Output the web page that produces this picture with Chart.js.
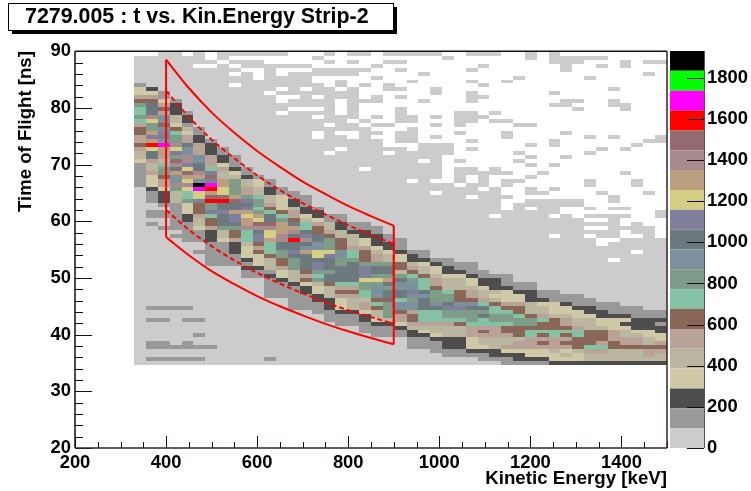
<!DOCTYPE html>
<html><head><meta charset="utf-8">
<style>html,body{margin:0;padding:0;background:#fff}#wrap{position:relative;width:751px;height:491px;overflow:hidden}canvas{position:absolute;top:0;display:block}</style>
<script src="https://cdn.jsdelivr.net/npm/chart.js@4"></script>
</head><body><div id="wrap"><canvas id="main" width="751" height="491" style="left:0"></canvas><canvas id="bar" width="81" height="491" style="left:670px"></canvas></div>
<script>
const TITLE = '7279.005 : t vs. Kin.Energy Strip-2';
const X_TITLE = 'Kinetic Energy [keV]';
const Y_TITLE = 'Time of Flight [ns]';
const X_START = 330, X_BIN = 26, Y_START = 34.6, Y_BIN = 0.7;
// colour level (one char per level): 0-9, a-j
const LEVEL_COLORS = ['#CCCCCC','#999999','#4D4D4D','#CFC9A8','#BBB6A0','#B9A297','#8A6656','#84C2A3','#7F9C88','#7B929E','#6C7A80','#7F7F9C','#D4CF85','#BC9F80','#A88B8F','#946A6E','#FF0000','#FF00FF','#00FF00','#000000'];
const Z_STEP = 96.5;
// top row of the dense band per energy bin
const COL_TOP = [70,69,68,66,63,59,56,54,52,49,47,46,44,43,42,39,37,37,35,35,34,32,31,28,28,26,26,25,25,23,22,22,20,20,18,18,17,17,16,15,15,14,14,13,13];
// levels per energy bin, from that top row downwards
const COL_LEVELS = [
"1 3 3 5 6 8 7 7 8 7 5 6 6 5 5 6 5 4 4 3 111111",
"2 3 5 6 aaa e c 8 8 d b d g c aa 5 44 5 333 2 111 00 11 0 1",
"11 3 5 6 5 99 6 9 bb 9 h dd 5 4 7 88 6 55 3 222 1 0 11 00 1",
"1 222 44 3 6 7 88 e c b 8 f e a d 99 e 8 444 1111111 0 1",
"1 22 1 4 3 55 a 99 ee b c f d c e c 77 8 333 22 11111",
"11 22 555 99 a a e d 9 j h cc b 666 5 44 3 111 00 1",
"1 222 555 7 b f b h g d f g 88 b 7 66 5 222 1 11111",
"11 22 3 5 4 4 d d cc f g a a b aa a 8 44 3 111111",
"111 2 3 4 88 88 d f aa d bb a8 66 5 222 111",
"11 2 44 55 8 b a b d c dd e 777 4 333 2 1 2 11",
"1 3 3 44 7 88 7 8 d c f e a bb 6 5 6 333 2 11",
"11 22 44 5 6 7 aa f e cc d 777 6 444 1 2 11111",
"11 333 3 6 7 8 dd d ee a a 8 8 66 5 33 2 111 1",
"11 22 4 5 5 6 a d e a g a a b a 88 8 44 4 2 111 111",
"111 22 3 4 77 a b e a 9 d aaa a 6 5 6 3 22 1111",
"1 22 3 5 66 a a 9 9 cc a bb 8 7 8 4 33 22 111",
"11 44 5 6 888 c b a aa 8 aa 6 444 222 111",
"11 22 44 666 99 88 aa aa 7 5 6 5 333 2 11 1",
"11 2 444 5 77 8 aa aa a 7 5 6 5 4 44 2 11 1",
"11 22 33 5 666 8 bbb c 8 8 77 4 55 3 22 111",
"11 222 3 4 55 8 aa 8 c 8 9 99 6 7 6 44 3 2 111",
"11 22 3 44 8 aa 8 d a 8 a a 6 88 88 4 2 111",
"111 2 33 66 4 8 a 99 aa 7 99 6 55 3 2 11",
"1 22 4 5 6 7 8 99 b 9 8 99 5 66 5 4 22 111",
"11 2 3 44 6 777 a 9 aaa 7 77 5 4 3 2 111",
"1 2 33 4 55 6 8 8 8 9 a 7 77 5 44 3 2 111",
"11 22 3 444 7 88 a b 88 7 5 4 44 222 11",
"11 2 3 444 666 9 b 88 7 6 444 222 11",
"111 2 3 3 4 55 6 9 a 88 8 7 555 333 2 1",
"11 22 3 44 5 7 a 8 a 7 7 5 6 5 44 3 2 11",
"1 222 4 3 4 6 77 8 8 7 555 44 4 22 1",
"111 2 333 5 6 7 8 8 7 66 5 44 5 3 2 1 1",
"11 2 33 5 66 7 88 666 4 55 3 22 1",
"11 222 444 6 8 8 6 77 5 55 33 2 1",
"11 2 3 44 5 7 66 7 6 5 6 5 33 2 1",
"111 333 4 666 77 55 5 4 3 3 2",
"11 2 33 4 55 6 7 6 5 6 5 3 4 3 2",
"111 2 33 44 5 77 666 4 33 2",
"11 22 3 444 666 6 7 5 44 2",
"11 22 33 4 666 5 7 5 44 2",
"111 2 333 55 5 66 444 2",
"11 2 3 2 3 44 55 6 444 2",
"111 22 2 3 4 55 6 444 2",
"11 222 3 3 44 6 55 4 2",
"11 2 1 22 33 5 6 5 44 2"];
// occupied (lightest level) bins per row; rows not listed are full
const SPARSE_ROWS = [
[78,"2-3 5 7-12 16 18-19 21-25 28-30 33 35"],
[77,"0-5 7 15 26 33 35-39"],
[76,"0-6 8-10 16 18 21-22 35-37 41 43-44"],
[75,"0-4 7 9-14 20 29 36 39 41"],
[74,"0-8 11 15-19 22 28 36"],
[73,"0-7 9 11 13-18 24 43"],
[72,"0-9 11-14 20 32 38"],
[71,"0-14 17 23 28 31"],
[70,"0-7 9-15 17 19 21 29"],
[69,"0-11 13 15-16 18 21-22 25 40"],
[68,"0-10 12-18 25 28 35"],
[67,"0-11 14 16-18 20 22 28-29"],
[66,"0-11 13-16 18-20 24 28 36-37 40"],
[65,"0-16 18 35-36 40-41"],
[64,"0-12 16 18 22 37 41"],
[63,"0-11 13-16 18 22 27-28 30"],
[62,"0-14 16-18 20 22-23 25 27-29"],
[61,"0-17 19 22-23 27-28 30-31"],
[60,"0-15 17-18 20-21 25 27 32-33"],
[59,"0-19 23"],
[58,"0-14 16 19-20 22-23 27 31 36"],
[57,"0-14 16-17 19 22-23 25 31 38 40 44"],
[56,"0-20 22-23 28 35 43-44"],
[55,"0-20 24-26 33 35 42"],
[54,"0-16 18-22 24-26 28 39 41"],
[53,"0-15 17-20 22-26 32 38"],
[52,"0-25 33 36"],
[51,"0-23 25 27 32"],
[50,"0-25 33 35"],
[49,"0-18 20-25 27-28 30"],
[48,"0-25 27-31 34 41"],
[47,"0-25 27 29 33"],
[46,"0-22 24 27 29 31-32 38 42"],
[45,"0-26 28-29 31 38 42"],
[44,"0-28 30 33 35"],
[43,"0-24 26-30 33-34 39 43"],
[42,"0-27 29-31 40"],
[41,"0-30 33-37 40"],
[40,"0-30 32-37"],
[39,"0-30 32 34-35 38 40-41"],
[38,"0-35 44"],
[37,"0-29 31-34 36 38-41 44"],
[36,"0-37 40"],
[35,"0-40 42"],
[34,"0-37 40-43"],
[33,"0-40 42-43"],
[32,"0-34 36-37 39-40 43"],
[31,"0-38 41-44"],
[30,"0-38 40-44"],
[28,"0-41 43-44"],
[26,"0-39 41-44"]];
// small separated groups of the second level
const ISLANDS = [[1,"1-5 11"],[4,"1-6"],[5,"1-2 4"],[7,"5"],[11,"1-2 4-5"],[14,"1-4"]];
// red selection contour (energy, time)
const CUT_E = [400,450,500,550,600,650,700,750,800,850,900];
const OUTER_TOP = [88.5,83.5,79.2,75.6,72.4,69.6,67,64.8,62.7,60.9,59.2];
const OUTER_LOW = [57.2,54,51.2,48.9,46.8,45,43.4,41.9,40.6,39.4,38.3];
const INNER_TOP = [83,78.4,74.4,71.1,68.1,65.5,63.2,61.2,59.3,57.6,56];
const INNER_LOW = [62,58.5,55.6,53.1,50.9,49,47.3,45.7,44.3,43.1,41.9];

const NB_COLS = COL_TOP.length, NB_ROWS = 79;
const parseRuns = s => { const out=[]; s.split(' ').forEach(t=>{const [a,b]=t.split('-').map(Number); for(let k=a;k<=(b===undefined?a:b);k++) out.push(k);}); return out; };
// grid[k][r] = level or -1 (empty)
const grid = Array.from({length:NB_COLS},()=>new Array(NB_ROWS).fill(0));
SPARSE_ROWS.forEach(([r,s])=>{ const on=new Set(parseRuns(s)); for(let k=0;k<NB_COLS;k++) grid[k][r]=on.has(k)?0:-1; });
ISLANDS.forEach(([r,s])=>parseRuns(s).forEach(k=>grid[k][r]=1));
COL_LEVELS.forEach((s,k)=>{ const t=s.replace(/ /g,''); for(let i=0;i<t.length;i++){ const r=COL_TOP[k]-i; if(r>=0) grid[k][r]=parseInt(t[i],20);} });

// one bar dataset per colour level, vertical runs merged
const cellData = LEVEL_COLORS.map(()=>[]);
for(let k=0;k<NB_COLS;k++){
  let r=0;
  while(r<NB_ROWS){
    const lev=grid[k][r]; let e=r+1;
    while(e<NB_ROWS && grid[k][e]===lev) e++;
    if(lev>=0) cellData[lev].push({x:X_START+X_BIN*(k+0.5), y:[Y_START+Y_BIN*r, Y_START+Y_BIN*e]});
    r=e;
  }
}
const cellSets = LEVEL_COLORS.map((c,i)=>({type:'bar',label:'z'+i,data:cellData[i],backgroundColor:c,borderWidth:0,inflateAmount:0,stack:'cells',barPercentage:1,categoryPercentage:1,order:5}));
const pts = (xs,ys)=>xs.map((x,i)=>({x,y:ys[i]}));
const last = a=>a[a.length-1];
const redLine = (label,data,dash)=>({type:'line',label,data,borderColor:'#FF0000',borderWidth:2,borderDash:dash,pointRadius:0,cubicInterpolationMode:'monotone',fill:false,order:dash.length?1:0});
const contour = (name,top,low,dash)=>[
  redLine(name+' top',pts(CUT_E,top),dash),
  redLine(name+' low',pts(CUT_E,low),dash),
  redLine(name+' left',[{x:CUT_E[0],y:low[0]},{x:CUT_E[0],y:top[0]}],dash),
  redLine(name+' right',[{x:last(CUT_E),y:last(low)},{x:last(CUT_E),y:last(top)}],dash)];
const lineSets = [...contour('inner',INNER_TOP,INNER_LOW,[5,3]),...contour('outer',OUTER_TOP,OUTER_LOW,[])];
// pixel-snap cells as the reference raster does
const snap = {id:'snap',afterDatasetsUpdate(chart){
  chart.data.datasets.forEach((d,i)=>{ if(d.type!=='bar') return;
    chart.getDatasetMeta(i).data.forEach(el=>{
      const l=Math.round(el.x-el.width/2), r=Math.round(el.x+el.width/2), t=Math.round(Math.min(el.y,el.base)), b=Math.round(Math.max(el.y,el.base));
      el.x=(l+r)/2; el.width=r-l; el.y=t; el.base=b; el.height=b-t;
    });
  });
}};
const AX='#111';
const vTicks=(ctx,scale,min,max,step,majorStep,x0,majorLen,minorLen,dir)=>{
  for(let v=min;v<=max;v+=step){ const p=Math.round(scale.getPixelForValue(v))+0.5; const len=((v-min)%majorStep===0)?majorLen:minorLen;
    ctx.beginPath();ctx.moveTo(x0,p);ctx.lineTo(x0+dir*len,p);ctx.stroke(); }
};
const decor = {id:'decor',
  afterLayout(chart){ chart.titleBlock.left=25; },
  beforeDraw(chart){ const c=chart.ctx; c.save();
    c.fillStyle='#000'; c.fillRect(12,7,385,27);
    c.fillStyle='#fff'; c.fillRect(8,3,386,28);
    c.strokeStyle='#000'; c.lineWidth=1; c.strokeRect(8.5,3.5,385,27);
    c.restore(); },
  afterDatasetsDraw(chart){ const c=chart.ctx,a=chart.chartArea,xs=chart.scales.x,ys=chart.scales.y; c.save();
    c.strokeStyle=AX; c.lineWidth=1;
    vTicks(c,ys,20,90,2,10,a.left,17,8,1);
    for(let v=200;v<=1500;v+=50){ const p=Math.round(xs.getPixelForValue(v))+0.5; const len=(v%200===0)?12:6;
      c.beginPath();c.moveTo(p,a.bottom);c.lineTo(p,a.bottom-len);c.stroke(); }
    c.lineWidth=1.5; c.strokeStyle='#111';
    c.beginPath();c.moveTo(a.left,a.top);c.lineTo(a.right,a.top);c.stroke();
    c.strokeStyle='#3a2020';
    c.beginPath();c.moveTo(a.right,a.top);c.lineTo(a.right,a.bottom);c.stroke();
    c.beginPath();c.moveTo(a.left,a.bottom);c.lineTo(a.right,a.bottom);c.stroke();
    c.strokeStyle='#111';
    c.beginPath();c.moveTo(a.left,a.top);c.lineTo(a.left,a.bottom);c.stroke();
    c.restore(); }
};
const FONT=18.4, FAM='"Liberation Sans"';
const plain = v=>String(v);
new Chart(document.getElementById('main'),{
  data:{datasets:[...cellSets,...lineSets]},
  plugins:[snap,decor],
  options:{responsive:false,animation:false,events:[],
    layout:{padding:{right:84,left:0,top:0,bottom:0}},
    plugins:{legend:{display:false},tooltip:{enabled:false},
      title:{display:true,text:TITLE,align:'start',color:'#000',font:{family:FAM,weight:'bold',size:21.4,lineHeight:1.2},padding:{top:4.5,bottom:21}}},
    scales:{
      x:{type:'linear',stacked:true,offset:false,min:200,max:1500,
        afterFit(s){s.height=43;},
        grid:{display:false,drawTicks:false,offset:false},border:{display:false},
        ticks:{stepSize:200,includeBounds:false,autoSkip:false,maxRotation:0,color:'#000',padding:4,callback:plain,font:{family:FAM,weight:'bold',size:FONT}},
        title:{display:true,text:X_TITLE,align:'end',color:'#000',padding:{top:0,bottom:1},font:{family:FAM,weight:'bold',size:18.7}}},
      y:{type:'linear',stacked:false,min:20,max:90,
        afterFit(s){s.width=75;},
        grid:{display:false,drawTicks:false},border:{display:false},
        ticks:{stepSize:10,autoSkip:false,color:'#000',padding:4,callback:plain,font:{family:FAM,weight:'bold',size:FONT}},
        title:{display:true,text:Y_TITLE,align:'end',color:'#000',padding:{top:15,bottom:0},font:{family:FAM,weight:'bold',size:18.6}}}
    }}
});
// colour bar
const BAR_MAX = 1930;
const barSets = LEVEL_COLORS.map((c,i)=>({label:'z'+i,data:[[i*Z_STEP,Math.min((i+1)*Z_STEP,BAR_MAX)]],backgroundColor:c,borderWidth:0,inflateAmount:0,barPercentage:1,categoryPercentage:1,stack:'b'}));
const barDecor={id:'barDecor',afterDatasetsDraw(chart){ const c=chart.ctx,a=chart.chartArea,z=chart.scales.y; c.save();
  c.strokeStyle='#111';c.lineWidth=1;
  for(let v=0;v<=1800;v+=200){ const p=Math.round(z.getPixelForValue(v))+0.5; c.beginPath();c.moveTo(a.right,p);c.lineTo(a.right-17,p);c.stroke(); }
  c.strokeStyle='#555';c.beginPath();c.moveTo(a.right+0.5,a.top);c.lineTo(a.right+0.5,a.bottom);c.stroke();
  c.restore(); }};
new Chart(document.getElementById('bar'),{
  type:'bar',
  data:{labels:[''],datasets:barSets},
  plugins:[barDecor],
  options:{responsive:false,animation:false,events:[],
    layout:{padding:{top:51,bottom:43,left:0,right:0}},
    plugins:{legend:{display:false},tooltip:{enabled:false},title:{display:false}},
    scales:{
      x:{display:false,stacked:true},
      y:{position:'right',stacked:false,min:0,max:BAR_MAX,afterFit(s){s.width=47;},
        afterBuildTicks(s){s.ticks=s.ticks.filter(t=>t.value<=1800);},
        grid:{display:false,drawTicks:false},border:{display:false},
        ticks:{stepSize:200,autoSkip:false,color:'#000',padding:3,callback:plain,font:{family:FAM,weight:'bold',size:FONT}}}
    }}
});
</script></body></html>
